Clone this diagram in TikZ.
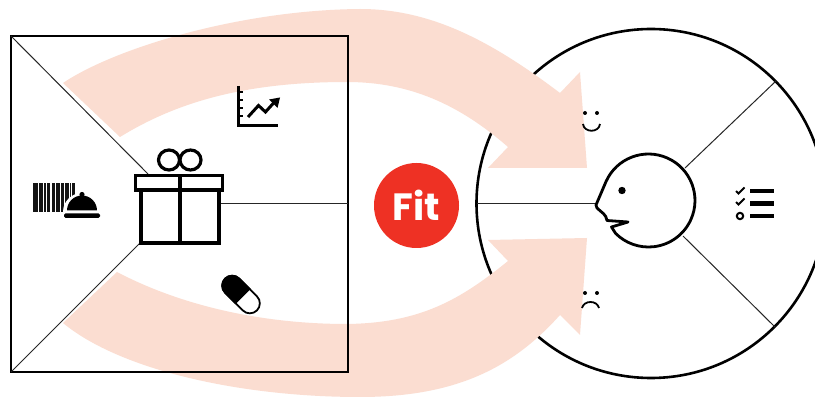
\documentclass[tikz,border=0pt]{standalone}
\usepackage{fontspec}
\setsansfont{Poppins}
\definecolor{arrowpink}{HTML}{FBDDD1}
\definecolor{fitred}{HTML}{EE3124}
\tikzset{
  thin line/.style={draw=black!85,line width=1pt},
  frame line/.style={draw=black,line width=2.4pt},
  arrow band/.style={fill=arrowpink,draw=none},
  icon stroke/.style={draw=black,line width=3.8pt},
  icon fill/.style={fill=black,draw=none},
}
\begin{document}
\begin{tikzpicture}[x=1pt,y=-1pt]
\useasboundingbox (0,0) rectangle (815,398);
\fill[white] (0,0) rectangle (815,398);
% named points
\coordinate (tl) at (11,36);
\coordinate (tr) at (348,36);
\coordinate (br) at (348,372);
\coordinate (bl) at (11,372);
\coordinate (giftTL) at (148,174);
\coordinate (giftBL) at (140,243);
\coordinate (giftR) at (219,204);
\coordinate (sqR) at (348,204);
\coordinate (cL) at (477,204);
\coordinate (hL) at (596,204);
\coordinate (hUR) at (685,168);
\coordinate (hLR) at (683,236);
\coordinate (cUR) at (776,81);
\coordinate (cLR) at (775,327);
% customer circle
\begin{scope}
\clip (0,0) rectangle (815,398);
\draw[draw=black,line width=2.6pt] (651,203.5) circle[radius=174.5];
\end{scope}
\draw[thin line] (cL) -- (hL);
\draw[thin line] (hUR) -- (cUR);
\draw[thin line] (hLR) -- (cLR);
% arrows
\fill[arrow band] (63,83) .. controls (115,48) and (240,10) .. (360,9)
  .. controls (430,9) and (490,40) .. (560,93)
  -- (580,72) -- (587,168) -- (488,168) -- (508,147)
  .. controls (460,105) and (410,82) .. (347,82)
  .. controls (250,82) and (180,100) .. (120,137) -- cycle;
\fill[arrow band] (63,323) .. controls (120,370) and (240,397) .. (360,397)
  .. controls (460,397) and (515,365) .. (560,315)
  -- (580,335) -- (587,238) -- (488,240) -- (508,261)
  .. controls (460,300) and (420,323) .. (347,324)
  .. controls (260,324) and (180,305) .. (117,272) -- cycle;
% square
\draw[frame line] (tl) rectangle (br);
\draw[thin line] (tl) -- (giftTL);
\draw[thin line] (bl) -- (giftBL);
\draw[thin line] (giftR) -- (sqR);
% gift
\draw[icon stroke,line join=miter] (141,190) rectangle (219,243);
\draw[icon stroke,fill=white] (135.5,175.5) rectangle (222.5,190);
\draw[icon stroke] (180,175.5) -- (180,243);
\draw[icon stroke,line width=3.2pt] (169,160) circle[x radius=10.5,y radius=10];
\draw[icon stroke,line width=3.2pt] (190.5,160) circle[x radius=10.5,y radius=10];
% barcode
\foreach \a/\b in {33/37.5,38.5/42.5,43.5/45.5,46.5/50,51.5/54.5,55.5/59.5,60.5/64,65/69,69.8/71,72/75}
  \fill[black!92] (\a,183.5) rectangle (\b,212);
% bell
\fill[white] (63,212) arc[start angle=180,end angle=360,radius=19] -- (102,219) -- (62,219) -- cycle;
\fill[icon fill] (67,210.5) arc[start angle=180,end angle=360,radius=15] -- cycle;
\fill[icon fill] (82,194.5) circle[radius=2.6];
\fill[icon fill,rounded corners=1.5pt] (64,213.5) rectangle (100,218);
% chart
\draw[draw=black,line width=2.2pt] (238.5,86) -- (238.5,125.5) -- (278,125.5);
\foreach \y in {92,100,108,116}
  \draw[draw=black,line width=1.6pt] (238.5,\y) -- (242.5,\y);
\draw[draw=black,line width=3pt] (248,117) -- (258.5,105.5) -- (265.5,112) -- (274,102.5);
\fill[icon fill] (280,97.5) -- (277.5,108) -- (269,99.5) -- cycle;
% pill
\begin{scope}[shift={(241,294.5)},rotate=-45]
\draw[draw=black,line width=1.8pt,fill=white] (-12.5,-10) -- (12.5,-10) arc[start angle=-90,end angle=90,radius=10] -- (-12.5,10) arc[start angle=90,end angle=270,radius=10] -- cycle;
\fill[icon fill] (3,-10.9) -- (-12.5,-10.9) arc[start angle=-90,end angle=-270,radius=10.9] -- (3,10.9) -- cycle;
\end{scope}
% smile
\fill[icon fill] (585,113) circle[radius=2];
\fill[icon fill] (597,113) circle[radius=2];
\draw[draw=black,line width=1.8pt] (583,124) .. controls (584,133) and (599,133) .. (600,124);
% frown
\fill[icon fill] (585,293) circle[radius=2];
\fill[icon fill] (597,293) circle[radius=2];
\draw[draw=black,line width=1.8pt] (582,308) .. controls (584,300) and (597,300) .. (599,308);
% head
\draw[draw=black,line width=2.8pt,line join=round,fill=white]
  (606,181.6) arc[start angle=-156,end angle=135,radius=46.5]
  -- (611.5,227) -- (628,222) -- (607,220.5)
  .. controls (606,214) and (602,213) .. (597,208) -- (596,205) -- cycle;
\fill[icon fill] (622,190.5) circle[radius=3.7];
% checklist
\foreach \y in {191,203.5,216}
  \fill[icon fill] (750,\y-2.3) rectangle (774,\y+2.3);
\foreach \y in {191,202}
  \draw[draw=black,line width=2pt] (736,\y) -- (738.5,\y+2.5) -- (744.5,\y-3.5);
\draw[draw=black,line width=2pt] (740,216) circle[radius=3.2];
% fit
\node[circle,fill=fitred,minimum size=85pt,inner sep=0pt,text=white,font=\sffamily\bfseries\fontsize{38}{38}\selectfont] (fit) at (416.5,205.5) {\raisebox{-2pt}{Fit}};
\end{tikzpicture}
\end{document}
